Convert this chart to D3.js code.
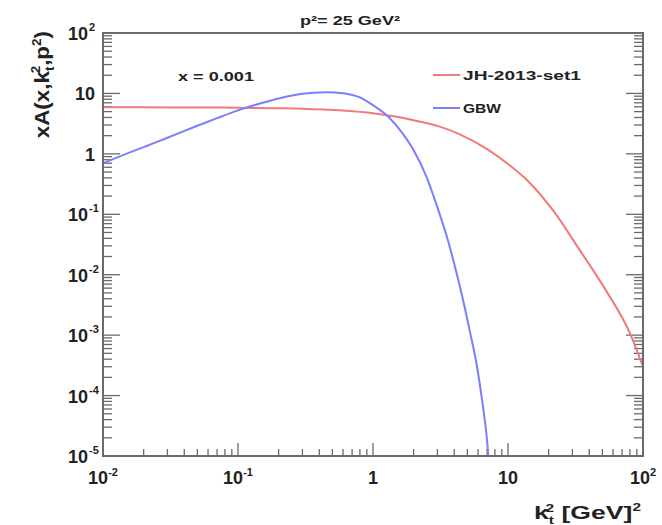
<!DOCTYPE html>
<html><head><meta charset="utf-8">
<script src="https://cdn.jsdelivr.net/npm/d3@7"></script>
<style>
html,body{margin:0;padding:0;background:#fff;}
svg text{font-family:"Liberation Sans",Arial,Helvetica,sans-serif;font-weight:bold;fill:#222;}
</style></head>
<body>
<svg id="chart" width="662" height="525"></svg>
<script>
// ---- data ----
const chartTitle = "p\u00B2= 25 GeV\u00B2";
const annotation = "x = 0.001";
const seriesNames = ["JH-2013-set1", "GBW"];
const seriesColors = ["#f07a7a", "#7d7dff"];

const k2Red  = [0.01, 0.02, 0.05, 0.1, 0.2, 0.3, 0.6, 1.0, 1.5, 2.0, 3.0, 4.4, 7.0, 10, 13.8, 21.5, 34, 54, 80, 100];
const valRed = [5.9, 5.88, 5.85, 5.8, 5.7, 5.6, 5.2, 4.7, 4.1, 3.6, 2.9, 2.1, 1.2, 0.68, 0.37, 0.117, 0.0255, 0.0052, 0.00108, 0.0003];

const k2Blue  = [0.01, 0.015, 0.02, 0.03, 0.05, 0.07, 0.1, 0.15, 0.2, 0.3, 0.45, 0.6, 0.8, 1.0, 1.3, 1.65, 2.0, 2.5, 3.0, 3.5, 4.0, 4.6, 5.2, 5.9, 6.5, 7.0, 7.15];
const valBlue = [0.7, 1.01, 1.29, 1.85, 2.92, 3.9, 5.24, 6.95, 8.26, 9.9, 10.5, 10.1, 8.6, 6.4, 4.1, 2.2, 1.15, 0.41, 0.13, 0.045, 0.015, 0.0042, 0.0012, 0.0003, 0.00007, 0.000018, 0.00001];

const xDomain = [0.01, 100];
const yDomain = [1e-5, 100];
const xTickLabels = [["10","-2"],["10","-1"],["1",""],["10",""],["10","2"]];
const yTickLabels = [["10","-5"],["10","-4"],["10","-3"],["10","-2"],["10","-1"],["1",""],["10",""],["10","2"]];

// ---- layout ----
const L = 103, R = 643, T = 33, B = 456;
const svg = d3.select("#chart");
const x = d3.scaleLog().domain(xDomain).range([L, R]);
const y = d3.scaleLog().domain(yDomain).range([B, T]);

const frameColor = "#6a6a6a";

function logTicks(dom){
  const out=[];
  const lo=Math.round(Math.log10(dom[0])), hi=Math.round(Math.log10(dom[1]));
  for(let e=lo;e<=hi;e++){
    for(let m=1;m<=9;m++){
      const v=m*Math.pow(10,e);
      if(v>dom[1]*1.0001) break;
      out.push({v, major:m===1});
    }
  }
  return out;
}
const xt = logTicks(xDomain), yt = logTicks(yDomain);

const g = svg.append("g");
g.selectAll("line.xt").data(xt).enter().append("line")
  .attr("x1",d=>x(d.v)).attr("x2",d=>x(d.v))
  .attr("y1",B).attr("y2",d=>B-(d.major?13:7))
  .attr("stroke",frameColor).attr("stroke-width",1.3);
[["l",L,1],["r",R,-1]].forEach(([n,x0,dir])=>{
  g.selectAll("line.yt"+n).data(yt).enter().append("line")
   .attr("x1",x0).attr("x2",d=>x0+dir*(d.major?17:9))
   .attr("y1",d=>y(d.v)).attr("y2",d=>y(d.v))
   .attr("stroke",frameColor).attr("stroke-width",1.3);
});

// curves
const line = d3.line().x(d=>x(d[0])).y(d=>y(d[1])).curve(d3.curveMonotoneX);
const redData = k2Red.map((k,i)=>[k,valRed[i]]);
const blueData = k2Blue.map((k,i)=>[k,valBlue[i]]);
svg.append("defs").append("clipPath").attr("id","clip").append("rect")
  .attr("x",L).attr("y",T).attr("width",R-L).attr("height",B-T);
const curves = svg.append("g").attr("clip-path","url(#clip)");
curves.append("path").datum(redData).attr("d",line).attr("fill","none")
  .attr("stroke",seriesColors[0]).attr("stroke-width",2);
curves.append("path").datum(blueData).attr("d",line).attr("fill","none")
  .attr("stroke",seriesColors[1]).attr("stroke-width",2);

// frame
svg.append("rect").attr("x",L).attr("y",T).attr("width",R-L).attr("height",B-T)
  .attr("fill","none").attr("stroke",frameColor).attr("stroke-width",2);

// tick labels
const majorX = xt.filter(d=>d.major);
majorX.forEach((d,i)=>{
  const lab = xTickLabels[i];
  const t = svg.append("text").attr("x",x(d.v)).attr("y",484)
    .attr("text-anchor","middle").attr("font-size",18);
  t.append("tspan").text(lab[0]);
  if(lab[1]) t.append("tspan").attr("dy",-8).attr("font-size",11).text(lab[1]);
});
const majorY = yt.filter(d=>d.major);
majorY.forEach((d,i)=>{
  const lab = yTickLabels[i];
  svg.append("text").attr("x",lab[1]?88:95).attr("y",y(d.v)+7)
    .attr("text-anchor","end").attr("font-size",18).text(lab[0]);
  if(lab[1]) svg.append("text").attr("x",89).attr("y",y(d.v)-2).attr("font-size",11).text(lab[1]);
});

// axis titles
const xtitle = svg.append("g").attr("transform",`translate(${R-2},519) scale(1.4,1)`)
  .append("text").attr("x",0).attr("y",0).attr("text-anchor","end").attr("font-size",19);
xtitle.append("tspan").text("k");
xtitle.append("tspan").attr("font-size",11).attr("dy",5).text("t");
xtitle.append("tspan").attr("font-size",11).attr("dx",-6).attr("dy",-12).text("2");
xtitle.append("tspan").attr("dy",7).text(" [GeV]");
xtitle.append("tspan").attr("font-size",11).attr("dy",-8).text("2");

const ytitle = svg.append("g").attr("transform","translate(49,31) rotate(-90) scale(1.12,1)")
  .append("text").attr("x",0).attr("y",0).attr("text-anchor","end").attr("font-size",20);
ytitle.append("tspan").text("xA(x,k");
ytitle.append("tspan").attr("font-size",12).attr("dy",5).text("t");
ytitle.append("tspan").attr("font-size",12).attr("dx",-6).attr("dy",-14).text("2");
ytitle.append("tspan").attr("dy",9).text(",p");
ytitle.append("tspan").attr("font-size",12).attr("dy",-8).text("2");
ytitle.append("tspan").attr("dy",8).text(")");

// title
svg.append("text").attr("x",300).attr("y",25).attr("font-size",12)
  .attr("textLength",100).attr("lengthAdjust","spacingAndGlyphs").text(chartTitle);

// annotation
svg.append("text").attr("x",178).attr("y",81).attr("font-size",13)
  .attr("textLength",76).attr("lengthAdjust","spacingAndGlyphs").text(annotation);

// legend
const legY = [75, 108];
const legW = [118, 38];
seriesNames.forEach((n,i)=>{
  svg.append("line").attr("x1",433).attr("x2",460).attr("y1",legY[i]).attr("y2",legY[i])
    .attr("stroke",seriesColors[i]).attr("stroke-width",2);
  svg.append("text").attr("x",463).attr("y",legY[i]+5).attr("font-size",13)
    .attr("textLength",legW[i]).attr("lengthAdjust","spacingAndGlyphs").text(n);
});
</script>
</body></html>
